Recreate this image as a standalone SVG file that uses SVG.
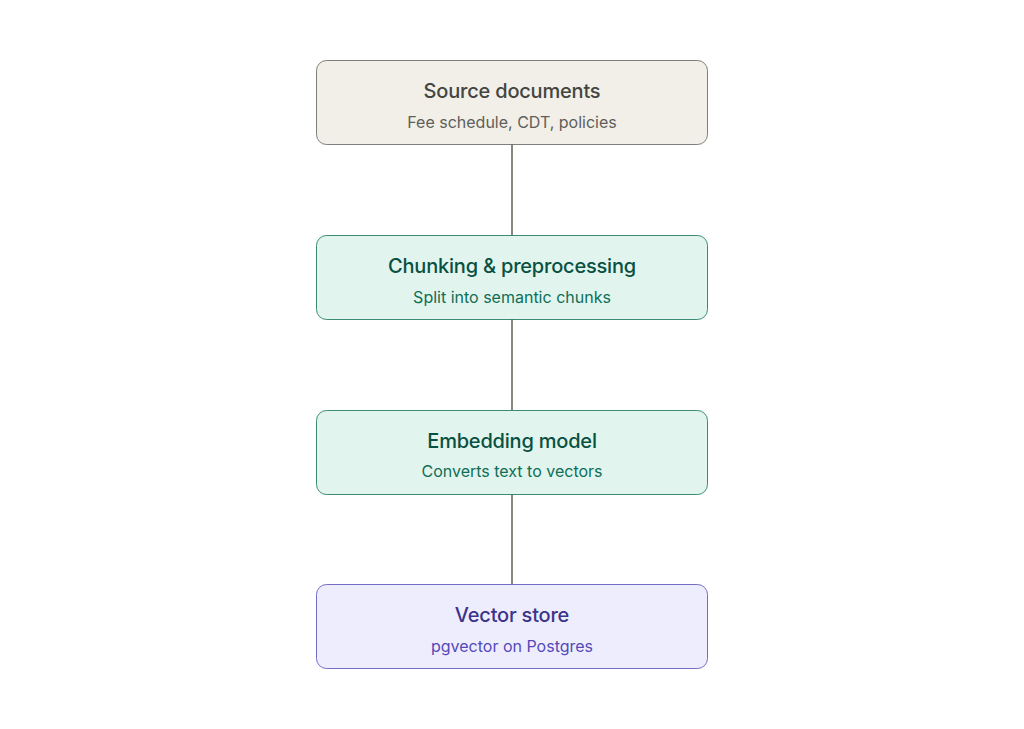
<svg xmlns="http://www.w3.org/2000/svg" width="1024" height="729" viewBox="0 0 1024 729">
<style>
.t{font-family:Inter,"Noto Sans","Liberation Sans",sans-serif;font-size:20px;font-weight:500;letter-spacing:-0.2px;text-anchor:middle}
.s{font-family:Inter,"Noto Sans","Liberation Sans",sans-serif;font-size:16px;font-weight:400;text-anchor:middle}
.gray rect{fill:#F1EFE8;stroke:#5F5E5A}
.gray .t{fill:#444441}.gray .s{fill:#5F5E5A}
.green rect{fill:#E1F5EE;stroke:#0F6E56}
.green .t{fill:#085041}.green .s{fill:#0F6E56}
.purple rect{fill:#EEEDFE;stroke:#534AB7}
.purple .t{fill:#3C3489}.purple .s{fill:#534AB7}
rect{stroke-width:0.8}
.c{stroke:#888780;stroke-width:2;fill:none}
</style>
<rect width="1024" height="729" fill="#ffffff" style="stroke:none"/>
<g id="connectors">
<line class="c" x1="512" y1="144" x2="512" y2="235"/>
<line class="c" x1="512" y1="319" x2="512" y2="410"/>
<line class="c" x1="512" y1="494" x2="512" y2="584"/>
</g>
<g id="source" class="gray">
<rect x="316.5" y="60.5" width="391" height="84" rx="10"/>
<text class="t" x="512" y="98">Source documents</text>
<text class="s" x="512" y="128">Fee schedule, CDT, policies</text>
</g>
<g id="chunking" class="green">
<rect x="316.5" y="235.5" width="391" height="84" rx="10"/>
<text class="t" x="512" y="273">Chunking &amp; preprocessing</text>
<text class="s" x="512" y="303">Split into semantic chunks</text>
</g>
<g id="embedding" class="green">
<rect x="316.5" y="410.5" width="391" height="84" rx="10"/>
<text class="t" x="512" y="448">Embedding model</text>
<text class="s" x="512" y="477">Converts text to vectors</text>
</g>
<g id="vector" class="purple">
<rect x="316.5" y="584.5" width="391" height="84" rx="10"/>
<text class="t" x="512" y="622">Vector store</text>
<text class="s" x="512" y="652">pgvector on Postgres</text>
</g>
</svg>
